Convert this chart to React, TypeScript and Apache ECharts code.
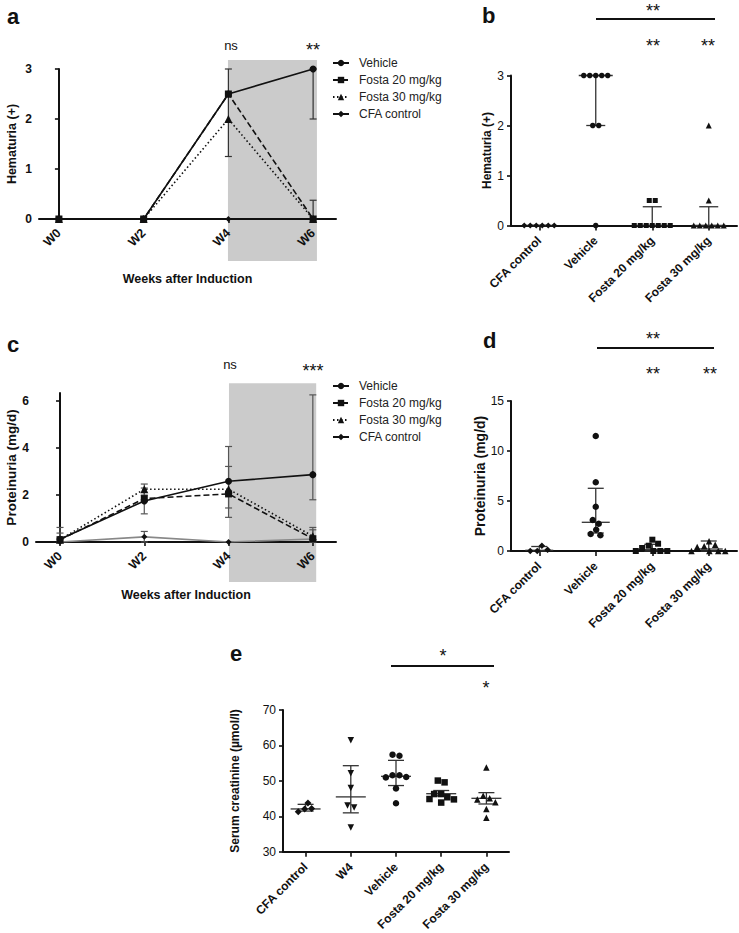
import React, { useEffect, useRef } from 'react';
import * as echarts from 'echarts';

const FONT = '"Liberation Sans", Arial, Helvetica, sans-serif';
const INK = '#111';

// ---------- shared ----------
const weeks = [0, 2, 4, 6];
const weekTicks = [0, 2, 4, 6];
const lineGroups = ['Vehicle', 'Fosta 20 mg/kg', 'Fosta 30 mg/kg', 'CFA control'];

// ---------- panel a : hematuria over time ----------
const hemVehicle = [0, 0, 2.5, 3];
const hemFosta20 = [0, 0, 2.5, 0];
const hemFosta30 = [0, 0, 2, 0];
const hemCFA = [0, 0, 0, 0];
// [week, low, high]
const hemErrors = [
  [4, 1.25, 3],
  [6, 2, 3],
  [6, 0, 0.375],
];
const hemShade = [[3.99, 6.09, -0.84, 3.18]];

// ---------- panel c : proteinuria over time ----------
const protVehicle = [0.12, 1.75, 2.59, 2.87];
const protFosta20 = [0.1, 1.85, 2.05, 0.14];
const protFosta30 = [0.1, 2.25, 2.25, 0.25];
const protCFA = [0, 0.22, 0, 0.13];
const protErrors = [
  [0, 0, 0.62],
  [0, 0, 0.38],
  [2, 1.2, 2.3],
  [2, 2.0, 2.47],
  [2, 0, 0.45],
  [4, 1.05, 4.07],
  [4, 1.45, 3.22],
  [6, 1.8, 6.27],
  [6, 0, 0.62],
  [6, 0, 0.52],
];
const protShade = [[4.01, 6.08, -1.7, 6.77]];
const protYTicks = [0, 2, 4, 6];

// ---------- panel b : hematuria W6 scatter ----------
const scatterGroups = ['CFA control', 'Vehicle', 'Fosta 20 mg/kg', 'Fosta 30 mg/kg'];
const hemPtsCFA = [0, 0, 0, 0, 0, 0];
const hemPtsVehicle = [3, 3, 3, 3, 3, 2, 2, 0];
const hemPtsFosta20 = [0.5, 0.5, 0, 0, 0, 0, 0, 0, 0];
const hemPtsFosta30 = [2, 0.5, 0, 0, 0, 0, 0, 0];
// [median, q1, q3]
const hemSummary = [
  [0, 0, 0],
  [3, 2, 3],
  [0, 0, 0.375],
  [0, 0, 0.375],
];

// ---------- panel d : proteinuria W6 scatter ----------
const protPtsCFA = [0.13, 0, 0, 0.53];
const protPtsVehicle = [11.5, 6.87, 4.43, 3.1, 2.73, 2.13, 1.7, 1.57];
const protPtsFosta20 = [1.13, 0.73, 0.53, 0.3, 0, 0, 0, 0];
const protPtsFosta30 = [0.97, 0.63, 0.47, 0.4, 0, 0, 0, 0];
const protSummary = [
  [0.07, 0, 0.45],
  [2.87, 1.8, 6.27],
  [0.13, 0, 0.67],
  [0.2, 0, 1.0],
];

// ---------- panel e : serum creatinine ----------
const creatGroups = ['CFA control', 'W4', 'Vehicle', 'Fosta 20 mg/kg', 'Fosta 30 mg/kg'];
const creatCFA = [43.8, 42.2, 42.1, 41.3];
const creatW4 = [61.5, 52.2, 48.0, 43.1, 42.5, 36.9];
const creatVehicle = [57.4, 57.1, 51.6, 51.6, 51.1, 51.0, 47.9, 43.7];
const creatFosta20 = [50.1, 49.6, 46.3, 46.3, 45.4, 44.9, 44.8, 43.9];
const creatFosta30 = [53.8, 45.8, 45.1, 44.8, 44.0, 42.1, 39.6];
const creatSummary = [
  [42.1, 41.5, 43.4],
  [45.5, 41.0, 54.3],
  [51.3, 48.7, 55.8],
  [46.4, 45.8, 47.3],
  [45.1, 43.5, 46.7],
];

// ---------- helpers ----------
function swarmOffsets(values: number[], pxPerUnit: number, d: number): number[] {
  const n = values.length;
  const order = values.map((_, i) => i).sort((a, b) => values[b] - values[a] || a - b);
  const xs: number[] = new Array(n).fill(0);
  const ys = values.map((v) => v * pxPerUnit);
  const placed: number[] = [];
  let lastSign = -1;
  for (const i of order) {
    const intervals: [number, number][] = [];
    const cands = [0];
    for (const j of placed) {
      const dy = Math.abs(ys[i] - ys[j]);
      if (dy < d) {
        const w = Math.sqrt(d * d - dy * dy);
        intervals.push([xs[j] - w, xs[j] + w]);
        cands.push(xs[j] - w, xs[j] + w);
      }
    }
    const ok = cands.filter((c) => intervals.every(([a, b]) => c <= a + 1e-6 || c >= b - 1e-6));
    const pref = -lastSign;
    ok.sort((a, b) => {
      const da = Math.round(Math.abs(a) * 1000) - Math.round(Math.abs(b) * 1000);
      if (da !== 0) return da;
      return pref > 0 ? b - a : a - b;
    });
    const x = ok[0];
    if (Math.abs(x) > 1e-6) lastSign = Math.sign(x);
    xs[i] = x;
    placed.push(i);
  }
  const parent = xs.map((_, i) => i);
  const find = (i: number): number => (parent[i] === i ? i : (parent[i] = find(parent[i])));
  for (let i = 0; i < n; i++)
    for (let j = i + 1; j < n; j++) {
      if (Math.hypot(xs[i] - xs[j], ys[i] - ys[j]) < d + 0.5) parent[find(i)] = find(j);
    }
  const sum: Record<number, number> = {};
  const cnt: Record<number, number> = {};
  xs.forEach((x, i) => {
    const r = find(i);
    sum[r] = (sum[r] || 0) + x;
    cnt[r] = (cnt[r] || 0) + 1;
  });
  return xs.map((x, i) => x - sum[find(i)] / cnt[find(i)]);
}

function errorBarRender(capHalf: number, color: string, width: number) {
  return (_p: any, api: any) => {
    const x = api.value(0);
    const lo = api.coord([x, api.value(1)]);
    const hi = api.coord([x, api.value(2)]);
    const st = { stroke: color, lineWidth: width };
    return {
      type: 'group',
      children: [
        { type: 'line', shape: { x1: lo[0], y1: lo[1], x2: hi[0], y2: hi[1] }, style: st },
        { type: 'line', shape: { x1: lo[0] - capHalf, y1: lo[1], x2: lo[0] + capHalf, y2: lo[1] }, style: st },
        { type: 'line', shape: { x1: hi[0] - capHalf, y1: hi[1], x2: hi[0] + capHalf, y2: hi[1] }, style: st },
      ],
    };
  };
}

function summaryRender(medHalf: number, capHalf: number) {
  return (_p: any, api: any) => {
    const c = api.value(0);
    const m = api.coord([c, api.value(1)]);
    const lo = api.coord([c, api.value(2)]);
    const hi = api.coord([c, api.value(3)]);
    const st = { stroke: '#333', lineWidth: 1.3 };
    return {
      type: 'group',
      children: [
        { type: 'line', shape: { x1: m[0] - medHalf, y1: m[1], x2: m[0] + medHalf, y2: m[1] }, style: st },
        { type: 'line', shape: { x1: lo[0], y1: lo[1], x2: hi[0], y2: hi[1] }, style: st },
        { type: 'line', shape: { x1: lo[0] - capHalf, y1: lo[1], x2: lo[0] + capHalf, y2: lo[1] }, style: st },
        { type: 'line', shape: { x1: hi[0] - capHalf, y1: hi[1], x2: hi[0] + capHalf, y2: hi[1] }, style: st },
      ],
    };
  };
}

function shadeRender(_p: any, api: any) {
  const p0 = api.coord([api.value(0), api.value(3)]);
  const p1 = api.coord([api.value(1), api.value(2)]);
  return {
    type: 'rect',
    shape: { x: p0[0], y: p0[1], width: p1[0] - p0[0], height: p1[1] - p0[1] },
    style: { fill: '#cbcbcb' },
  };
}

const markerDefs = [
  { symbol: 'circle', size: 7, dash: 'solid' as any },
  { symbol: 'rect', size: 7, dash: [6, 3] },
  { symbol: 'triangle', size: 8, dash: [1.5, 2.5] },
  { symbol: 'diamond', size: 6, dash: 'solid' as any },
];

function timeSeries(axis: number, values: number[][], cfaColor: string) {
  return values.map((vals, g) => ({
    type: 'line',
    name: lineGroups[g],
    xAxisIndex: axis,
    yAxisIndex: axis,
    data: weeks.map((w, i) => [w, vals[i]]),
    symbol: markerDefs[g].symbol,
    symbolSize: markerDefs[g].size,
    showSymbol: true,
    lineStyle: { color: g === 3 ? cfaColor : INK, width: 1.6, type: markerDefs[g].dash },
    itemStyle: { color: INK },
    z: 3,
  }));
}

const scatterSymbolsB = [
  { symbol: 'diamond', size: 6, rotate: 0 },
  { symbol: 'circle', size: 5.5, rotate: 0 },
  { symbol: 'rect', size: 5, rotate: 0 },
  { symbol: 'triangle', size: 6, rotate: 0 },
];
const scatterSymbolsD = [
  { symbol: 'diamond', size: 6.5, rotate: 0 },
  { symbol: 'circle', size: 6.5, rotate: 0 },
  { symbol: 'rect', size: 6, rotate: 0 },
  { symbol: 'triangle', size: 6.5, rotate: 0 },
];

function scatterSeries(axis: number, groups: number[][], pxPerUnit: number, d: number, syms: any[], prefix: string) {
  return groups.map((pts, g) => {
    const off = swarmOffsets(pts, pxPerUnit, d);
    return {
      type: 'scatter',
      name: prefix + g,
      xAxisIndex: axis,
      yAxisIndex: axis,
      symbol: syms[g].symbol,
      symbolSize: syms[g].size,
      symbolRotate: syms[g].rotate,
      itemStyle: { color: INK, opacity: 1 },
      data: pts.map((v, j) => ({ value: [g, v], symbolOffset: [off[j], 0] })),
      z: 3,
    };
  });
}

function summarySeries(axis: number, summary: number[][], medHalf: number, capHalf: number) {
  return {
    type: 'custom',
    xAxisIndex: axis,
    yAxisIndex: axis,
    renderItem: summaryRender(medHalf, capHalf),
    data: summary.map((s, i) => [i, s[0], s[1], s[2]]),
    encode: { x: 0, y: [1, 2, 3] },
    z: 2,
    silent: true,
  };
}

const tickLabelBold = { fontFamily: FONT, fontSize: 12, fontWeight: 'bold', color: INK };
const tickLabelReg = { fontFamily: FONT, fontSize: 12, color: INK };
const axisLine = { show: true, lineStyle: { color: INK, width: 2 } };
const axisTick = { show: true, length: 4, lineStyle: { color: INK, width: 1.6 } };

function valueXAxis(grid: number, min: number, max: number, name: string) {
  return {
    type: 'value',
    gridIndex: grid,
    min,
    max,
    name,
    nameLocation: 'middle',
    nameGap: 53,
    nameTextStyle: { fontFamily: FONT, fontSize: 12.5, fontWeight: 'bold', color: INK },
    splitLine: { show: false },
    axisLine,
    axisTick: { ...axisTick, customValues: weekTicks },
    axisLabel: {
      ...tickLabelBold,
      fontSize: 12.5,
      rotate: 45,
      margin: 12,
      customValues: weekTicks,
      formatter: (v: number) => 'W' + v,
    },
  };
}

function catXAxis(grid: number, cats: string[]) {
  return {
    type: 'category',
    gridIndex: grid,
    data: cats,
    axisLine,
    axisTick: { ...axisTick, length: 5, alignWithLabel: true },
    axisLabel: { ...tickLabelBold, rotate: 45, margin: 13, interval: 0 },
    splitLine: { show: false },
  };
}

function yAxisDef(grid: number, min: number, max: number, interval: number, name: string, nameSize: number, nameGap: number, bold: boolean, extra: any = {}) {
  return {
    type: 'value',
    gridIndex: grid,
    min,
    max,
    interval,
    name,
    nameLocation: 'middle',
    nameGap,
    nameRotate: 90,
    nameTextStyle: { fontFamily: FONT, fontSize: nameSize, fontWeight: 'bold', color: INK },
    splitLine: { show: false },
    axisLine,
    axisTick: { ...axisTick, ...(extra.tick || {}) },
    axisLabel: { ...(bold ? tickLabelBold : tickLabelReg), margin: 7, ...(extra.label || {}) },
  };
}

function txt(x: number, y: number, text: string, size: number, opts: any = {}) {
  return {
    type: 'text',
    x,
    y,
    style: {
      text,
      fontFamily: FONT,
      fontSize: size,
      fill: INK,
      align: opts.align || 'center',
      verticalAlign: 'middle',
      fontWeight: opts.weight || 'normal',
    },
    z: 50,
  };
}

function hline(x1: number, x2: number, y: number) {
  return { type: 'line', shape: { x1, y1: y, x2, y2: y }, style: { stroke: INK, lineWidth: 2 }, z: 50 };
}

function buildOption(): any {
  const legendBase = {
    data: lineGroups,
    orient: 'vertical',
    left: 327,
    itemWidth: 16,
    itemHeight: 8,
    itemGap: 3,
    selectedMode: false,
    textStyle: { fontFamily: FONT, fontSize: 12, color: '#222', lineHeight: 14, padding: [0, 0, 0, 5] },
  };

  const series: any[] = [
    // panel a
    { type: 'custom', xAxisIndex: 0, yAxisIndex: 0, renderItem: shadeRender, data: hemShade, clip: false, z: -5, silent: true },
    { type: 'custom', xAxisIndex: 0, yAxisIndex: 0, renderItem: errorBarRender(3.5, '#333', 1.2), data: hemErrors, z: 2, silent: true },
    ...timeSeries(0, [hemVehicle, hemFosta20, hemFosta30, hemCFA], INK),
    // panel c
    { type: 'custom', xAxisIndex: 2, yAxisIndex: 2, renderItem: shadeRender, data: protShade, clip: false, z: -5, silent: true },
    { type: 'custom', xAxisIndex: 2, yAxisIndex: 2, renderItem: errorBarRender(3.5, '#555', 1.2), data: protErrors, z: 2, silent: true },
    ...timeSeries(2, [protVehicle, protFosta20, protFosta30, protCFA], '#888'),
    // panel b
    summarySeries(1, hemSummary, 17, 9.5),
    ...scatterSeries(1, [hemPtsCFA, hemPtsVehicle, hemPtsFosta20, hemPtsFosta30], 50, 6, scatterSymbolsB, 'b'),
    // panel d
    summarySeries(3, protSummary, 14, 8),
    ...scatterSeries(3, [protPtsCFA, protPtsVehicle, protPtsFosta20, protPtsFosta30], 10, 7, scatterSymbolsD, 'd'),
    // panel e
    summarySeries(4, creatSummary, 15, 8),
    ...scatterSeries(
      4,
      [creatCFA, creatW4, creatVehicle, creatFosta20, creatFosta30],
      149 / 40,
      7,
      [
        { symbol: 'diamond', size: 7, rotate: 0 },
        { symbol: 'triangle', size: 6.5, rotate: 180 },
        { symbol: 'circle', size: 6.5, rotate: 0 },
        { symbol: 'rect', size: 6.5, rotate: 0 },
        { symbol: 'triangle', size: 6.5, rotate: 0 },
      ],
      'e'
    ),
  ];

  return {
    animation: false,
    backgroundColor: '#fff',
    textStyle: { fontFamily: FONT },
    grid: [
      { left: 39, top: 69, width: 297, height: 150 },
      { left: 511, top: 75.5, width: 226, height: 150 },
      { left: 36, top: 393, width: 300, height: 149 },
      { left: 511, top: 401, width: 226, height: 150 },
      { left: 283, top: 710, width: 226, height: 149 },
    ],
    xAxis: [
      valueXAxis(0, -0.47, 6.54, 'Weeks after Induction'),
      catXAxis(1, scatterGroups),
      { ...valueXAxis(2, -0.57, 6.55, 'Weeks after Induction'), nameGap: 46 },
      catXAxis(3, scatterGroups),
      catXAxis(4, creatGroups),
    ],
    yAxis: [
      yAxisDef(0, 0, 3, 1, 'Hematuria (+)', 12.5, 21, true),
      yAxisDef(1, 0, 3, 1, 'Hematuria (+)', 12, 17, false),
      yAxisDef(2, 0, 6.35, 2, 'Proteinuria (mg/d)', 13.5, 18, true, {
        tick: { customValues: protYTicks },
        label: { customValues: protYTicks },
      }),
      yAxisDef(3, 0, 15, 5, 'Proteinuria (mg/d)', 14, 16, false),
      yAxisDef(4, 30, 70, 10, 'Serum creatinine (µmol/l)', 12, 42, false),
    ],
    legend: [
      { ...legendBase, top: 51 },
      { ...legendBase, top: 374 },
    ],
    graphic: [
      txt(7, 16, 'a', 22, { align: 'left', weight: 'bold' }),
      txt(482, 15, 'b', 22, { align: 'left', weight: 'bold' }),
      txt(7, 344, 'c', 22, { align: 'left', weight: 'bold' }),
      txt(483, 340, 'd', 22, { align: 'left', weight: 'bold' }),
      txt(230, 653, 'e', 22, { align: 'left', weight: 'bold' }),
      // panel a annotations
      txt(231, 45, 'ns', 13),
      txt(313, 50, '**', 18),
      // panel c annotations
      txt(230, 364, 'ns', 13),
      txt(313, 371, '***', 18),
      // panel b
      hline(596, 715, 19),
      txt(653, 11, '**', 18),
      txt(653, 46, '**', 18),
      txt(708, 46, '**', 18),
      // panel d
      hline(597, 714, 348),
      txt(653, 339, '**', 18),
      txt(653, 374, '**', 18),
      txt(710, 374, '**', 18),
      // panel e
      hline(391, 494, 666),
      txt(443, 656, '*', 18),
      txt(486, 688, '*', 18),
    ],
    series,
  };
}

export default function App() {
  const ref = useRef<HTMLDivElement>(null);
  useEffect(() => {
    if (!ref.current) return;
    const chart = echarts.init(ref.current, null, { renderer: 'svg' });
    chart.setOption(buildOption());
    return () => chart.dispose();
  }, []);
  return (
    <div
      ref={ref}
      style={{ position: 'fixed', left: 0, top: 0, width: 739, height: 933, background: '#fff' }}
    />
  );
}
